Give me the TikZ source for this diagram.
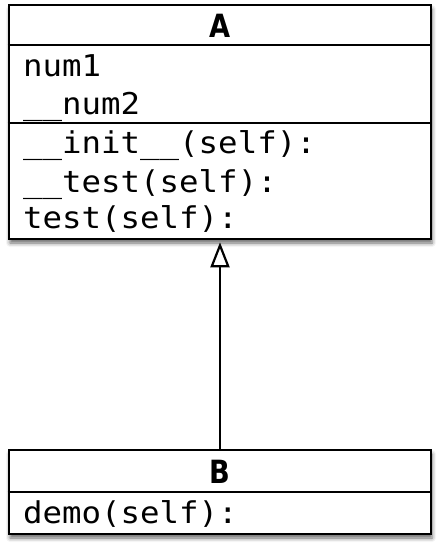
\documentclass[tikz,border=0pt]{standalone}
\usepackage{fontspec}
\usetikzlibrary{arrows.meta,shadows.blur}
\newfontfamily\codefont[FakeStretch=1.08]{DejaVu Sans Mono}
\newfontfamily\titlefont[FakeStretch=0.85]{DejaVu Sans}
\begin{document}
\begin{tikzpicture}[x=1pt,y=-1pt,
  classbox/.style={draw, line width=2.6pt, fill=white, minimum width=422pt, inner sep=0pt,
    blur shadow={shadow xshift=1pt, shadow yshift=-4pt, shadow blur radius=4pt, shadow opacity=60}},
  code/.style={anchor=base west, inner sep=0pt, font=\codefont\fontsize{30}{30}\selectfont},
  title/.style={anchor=base, inner sep=0pt, font=\titlefont\bfseries\fontsize{32}{32}\selectfont},
  divider/.style={line width=2.6pt},
  inherit/.style={line width=2.2pt, -{Triangle[open,length=25pt,width=19pt]}, shorten >=2pt}]
\useasboundingbox (0,0) rectangle (440,549);
% class A
\node[classbox, minimum height=234pt] (A) at (220,122) {};
\draw[divider] (A.west |- 0,45) -- (A.east |- 0,45);
\draw[divider] (A.west |- 0,123) -- (A.east |- 0,123);
\node[title] (tA) at (220,37) {A};
\node[code] (a1) at (23,76) {num1};
\node[code] (a2) at (23,114) {\_\_num2};
\node[code] (m1) at (23,153) {\_\_init\_\_(self):};
\node[code] (m2) at (23,192) {\_\_test(self):};
\node[code] (m3) at (23,228) {test(self):};
% class B
\node[classbox, minimum height=84pt] (B) at (220,492) {};
\draw[divider] (B.west |- 0,492) -- (B.east |- 0,492);
\node[title] (tB) at (220,483) {B};
\node[code] (b1) at (23,523) {demo(self):};
% inheritance
\draw[inherit] (B.north) -- (A.south);
\end{tikzpicture}
\end{document}
